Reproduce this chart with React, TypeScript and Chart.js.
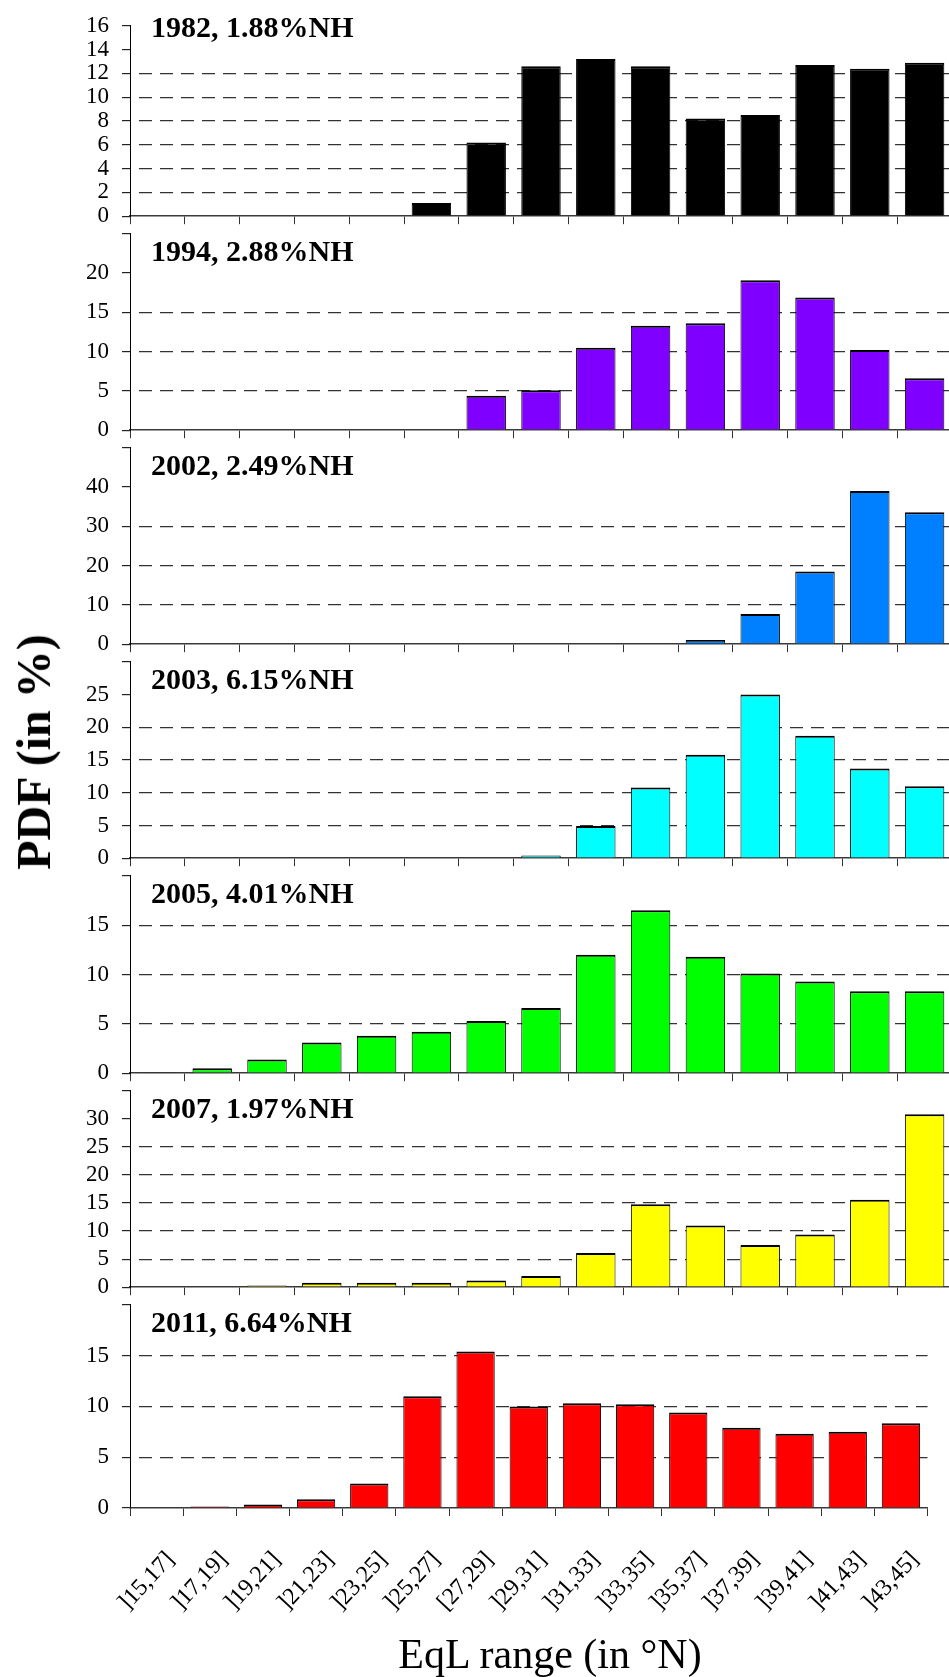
import React, { useEffect, useRef } from "react";
import { Chart, registerables } from "chart.js";

Chart.register(...registerables);

// ---------- data ----------
const categories = [
  "]15,17]", "]17,19]", "]19,21]", "]21,23]", "]23,25]", "]25,27]", "[27,29]",
  "]29,31]", "]31,33]", "]33,35]", "]35,37]", "]37,39]", "]39,41]", "]41,43]", "]43,45]",
];

const values1982 = [0, 0, 0, 0, 0, 1.1, 6.2, 12.6, 13.2, 12.6, 8.2, 8.5, 12.7, 12.4, 12.9];
const values1994 = [0, 0, 0, 0, 0, 0, 4.4, 5.1, 10.5, 13.3, 13.6, 19.1, 16.9, 10.2, 6.6];
const values2002 = [0, 0, 0, 0, 0, 0, 0, 0, 0, 0, 1.1, 7.7, 18.5, 39.0, 33.6];
const values2003 = [0, 0, 0, 0, 0, 0, 0, 0.4, 4.9, 10.8, 15.8, 25.0, 18.7, 13.7, 11.0];
const values2005 = [0.1, 0.5, 1.4, 3.1, 3.8, 4.2, 5.3, 6.6, 12.0, 16.5, 11.8, 10.1, 9.3, 8.3, 8.3];
const values2007 = [0, 0, 0.3, 0.8, 0.8, 0.8, 1.2, 2.0, 6.1, 14.8, 11.0, 7.5, 9.4, 15.6, 30.8];
const values2011 = [0, 0.15, 0.35, 0.85, 2.4, 11.0, 15.4, 10.0, 10.3, 10.2, 9.4, 7.9, 7.3, 7.5, 8.35];

const panelValues = [values1982, values1994, values2002, values2003, values2005, values2007, values2011];
const panelTitles = [
  "1982, 1.88%NH", "1994, 2.88%NH", "2002, 2.49%NH", "2003, 6.15%NH",
  "2005, 4.01%NH", "2007, 1.97%NH", "2011, 6.64%NH",
];
const panelColors = ["#000000", "#8000ff", "#0080ff", "#00ffff", "#00ff00", "#ffff00", "#ff0000"];
const axisMax = [16, 25, 50, 30, 20, 35, 20];
const axisStep = [2, 5, 10, 5, 5, 5, 5];
const gridMax = [12, 15, 30, 20, 15, 25, 15];

const yTitle = "PDF (in %)";
const xTitle = "EqL range (in °N)";

// ---------- layout ----------
const PAGE_W = 949;
const PAGE_H = 1677;
const CANVAS_W = 952;
const PLOT_LEFT = 130;
const FIRST_TOP = 15;
const ZERO_LINES = [223, 437, 651, 865, 1080, 1294, 1508];
const PAD_T = 16;
const FONT = "'Liberation Serif', 'Times New Roman', serif";

function geometry(i: number) {
  const last = i === ZERO_LINES.length - 1;
  const plotTop = i === 0 ? FIRST_TOP : ZERO_LINES[i - 1];
  const zero = ZERO_LINES[i];
  const xH = last ? 125 : 10;
  const padB = last ? 0 : 10;
  const canvasTop = plotTop - PAD_T;
  const canvasH = PAD_T + (zero - plotTop) + xH + padB;
  return { last, plotTop, zero, xH, padB, canvasTop, canvasH };
}

function Panel({ index }: { index: number }) {
  const ref = useRef<HTMLCanvasElement>(null);
  const g = geometry(index);

  useEffect(() => {
    const max = axisMax[index];
    const chart = new Chart(ref.current as HTMLCanvasElement, {
      type: "bar",
      data: {
        labels: categories,
        datasets: [
          {
            data: panelValues[index],
            backgroundColor: panelColors[index],
            borderColor: "#000000",
            borderWidth: { top: 2, left: 1, right: 1, bottom: 0 } as any,
            borderSkipped: "start",
            barPercentage: 0.72,
            categoryPercentage: 1,
          },
        ],
      },
      options: {
        responsive: false,
        animation: false,
        devicePixelRatio: 1,
        layout: { padding: { top: PAD_T, bottom: g.padB, left: 0, right: 0 } },
        plugins: {
          legend: { display: false },
          tooltip: { enabled: false },
          title: { display: false },
        },
        scales: {
          x: {
            type: "category",
            offset: true,
            grid: {
              display: true,
              drawOnChartArea: false,
              drawTicks: true,
              tickLength: 8,
              tickColor: "#333333",
              tickWidth: 1,
              offset: true,
            },
            border: { display: true, color: "#3a3a3a", width: 1.5 },
            ticks: {
              display: g.last,
              autoSkip: false,
              minRotation: 47,
              maxRotation: 47,
              padding: 30,
              labelOffset: 14,
              color: "#000000",
              font: { family: FONT, size: 24 },
            },
            afterFit: (s: any) => {
              s.height = g.xH;
            },
          },
          y: {
            min: 0,
            max,
            ticks: {
              stepSize: axisStep[index],
              autoSkip: false,
              maxTicksLimit: 100,
              padding: 13,
              color: "#000000",
              font: { family: FONT, size: 23 },
              callback: (v: any) => (index > 0 && Number(v) === max ? "" : String(v)),
            },
            grid: {
              display: true,
              drawOnChartArea: true,
              drawTicks: true,
              tickLength: 8,
              tickColor: "#222222",
              lineWidth: 1.2,
              color: (c: any) => {
                const v = c.tick ? c.tick.value : 0;
                return v > 0 && v <= gridMax[index] ? "#333333" : "rgba(0,0,0,0)";
              },
            },
            border: { display: true, color: "#000000", width: 1, dash: [13, 8], dashOffset: 13 },
            afterFit: (s: any) => {
              s.width = PLOT_LEFT;
            },
          },
        },
      } as any,
    });
    return () => chart.destroy();
  }, []);

  return (
    <canvas
      ref={ref}
      width={CANVAS_W}
      height={g.canvasH}
      style={{
        position: "absolute",
        left: 0,
        top: g.canvasTop,
        width: CANVAS_W,
        height: g.canvasH,
        display: "block",
      }}
    />
  );
}

export default function App() {
  return (
    <div
      style={{
        position: "absolute",
        left: 0,
        top: 0,
        width: PAGE_W,
        height: PAGE_H,
        overflow: "hidden",
        background: "#ffffff",
        fontFamily: FONT,
        color: "#000",
      }}
    >
      {panelValues.map((_, i) => (
        <Panel key={i} index={i} />
      ))}
      {panelTitles.map((t, i) => {
        const g = geometry(i);
        const center = i === 0 ? 27 : g.plotTop + 28;
        return (
          <div
            key={"t" + i}
            style={{
              position: "absolute",
              left: 151,
              top: center - 15,
              fontSize: 30,
              lineHeight: "30px",
              fontWeight: "bold",
              whiteSpace: "nowrap",
            }}
          >
            {t}
          </div>
        );
      })}
      <div
        style={{
          position: "absolute",
          left: 34,
          top: 752,
          transform: "translate(-50%, -50%) rotate(-90deg)",
          fontSize: 48,
          lineHeight: "48px",
          fontWeight: "bold",
          whiteSpace: "nowrap",
        }}
      >
        {yTitle}
      </div>
      <div
        style={{
          position: "absolute",
          left: 550,
          top: 1633,
          transform: "translateX(-50%)",
          fontSize: 42,
          lineHeight: "42px",
          whiteSpace: "nowrap",
        }}
      >
        {xTitle}
      </div>
    </div>
  );
}
